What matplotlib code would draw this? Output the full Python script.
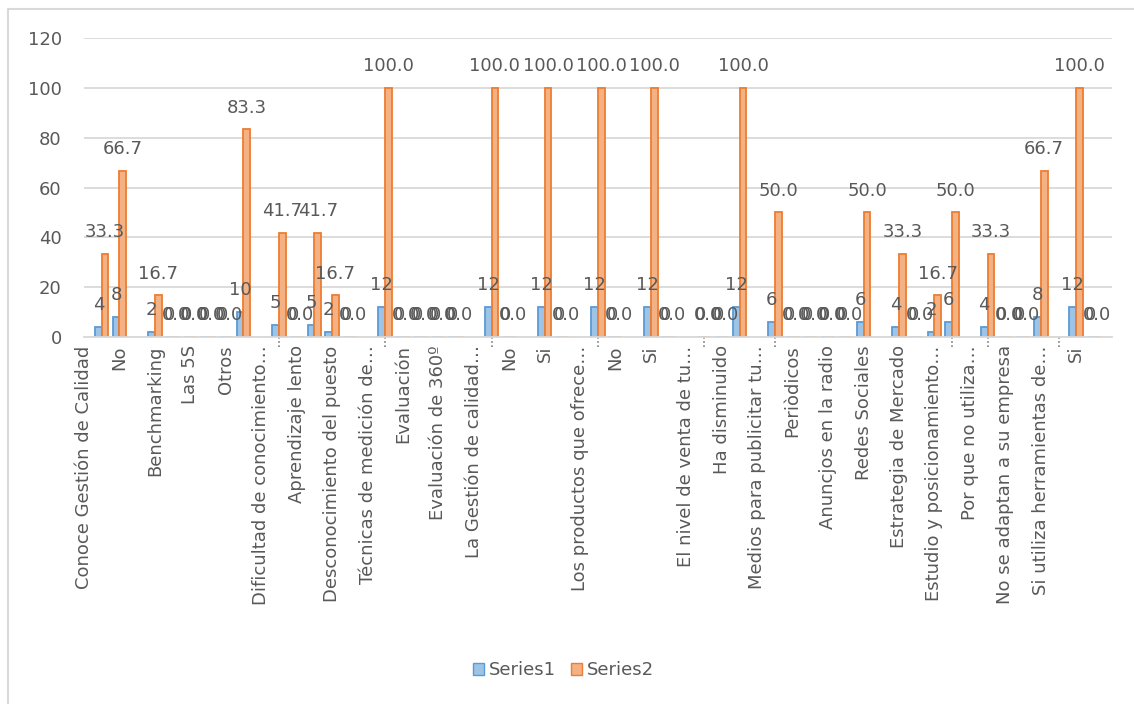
import numpy as np
import matplotlib
matplotlib.use('Agg')
from matplotlib import pyplot as plt
from matplotlib.patches import Patch
from matplotlib.lines import Line2D
import matplotlib.transforms as mtransforms

# labels shown on the axis (every second category)
labels = ['Conoce Gestión de Calidad', 'No', 'Benchmarking', 'Las 5S', 'Otros',
          'Dificultad de conocimiento…', 'Aprendizaje lento', 'Desconocimiento del puesto',
          'Técnicas de medición de…', 'Evaluación', 'Evaluación de 360º',
          'La Gestión de calidad…', 'No', 'Si', 'Los productos que ofrece…', 'No', 'Si',
          'El nivel de venta de tu…', 'Ha disminuido', 'Medios para publicitar tu…',
          'Periòdicos', 'Anuncjos en la radio', 'Redes Sociales', 'Estrategia de Mercado',
          'Estudio y posicionamiento…', 'Por que no utiliza…', 'No se adaptan a su empresa',
          'Si utiliza herramientas de…', 'Si']

nan = np.nan
series1 = [nan, 4, 8, nan, 2, 0, 0, 0, 0, 10,
           nan, 5, 0, 5, 2, 0, nan, 12, 0, 0,
           0, 0, nan, 12, 0, nan, 12, 0, nan, 12,
           0, nan, 12, 0, nan, 0, 0, 12, nan, 6,
           0, 0, 0, 0, 6, nan, 4, 0, 2, 6,
           nan, 4, 0, 0, 8, nan, 12, 0]
series2 = [nan, 33.3, 66.7, nan, 16.7, 0, 0, 0, 0, 83.3,
           nan, 41.7, 0, 41.7, 16.7, 0, nan, 100, 0, 0,
           0, 0, nan, 100, 0, nan, 100, 0, nan, 100,
           0, nan, 100, 0, nan, 0, 0, 100, nan, 50,
           0, 0, 0, 0, 50, nan, 33.3, 0, 16.7, 50,
           nan, 33.3, 0, 0, 66.7, nan, 100, 0]

# group boundaries marked under the axis
separators = [11, 17, 23, 29, 35, 39, 49, 51, 55]

text_color = '#595959'
grid_color = '#D9D9D9'
plt.rcParams['font.family'] = ['DejaVu Sans']

figure = plt.figure(figsize=(11.34, 7.04), dpi=100)
axes = figure.add_axes([0.0741, 0.5213, 0.9062, 0.4247])

x = np.arange(len(series1))
width = 0.38
axes.bar(x - 0.19, series1, width, color='#9DC3E6', edgecolor='#5B9BD5',
         linewidth=1.3, label='Series1', zorder=2)
axes.bar(x + 0.19, series2, width, color='#F4B183', edgecolor='#ED7D31',
         linewidth=1.3, label='Series2', zorder=2)

for xs, values, fmt in [(x - 0.19, series1, '{:.0f}'), (x + 0.19, series2, '{:.1f}')]:
    for xi, v in zip(xs, values):
        if np.isnan(v):
            continue
        axes.annotate(fmt.format(v), (xi, v), xytext=(0, 12), textcoords='offset points',
                      ha='center', va='baseline', fontsize=13, color=text_color, zorder=3)

axes.set_xlim(0, len(series1))
axes.set_ylim(0, 120)
axes.set_yticks(np.arange(0, 121, 20))
axes.set_xticks(x[::2], labels, rotation=90)
axes.tick_params(axis='x', length=0, pad=6, labelsize=13, labelcolor=text_color)
axes.tick_params(axis='y', length=0, pad=16, labelsize=13, labelcolor=text_color)
axes.grid(axis='y', color=grid_color, linewidth=1.3, zorder=0)
axes.set_axisbelow(True)
for side in ['top', 'right', 'left']:
    axes.spines[side].set_visible(False)
axes.spines['bottom'].set_color(grid_color)
axes.spines['bottom'].set_linewidth(1.3)

trans = mtransforms.blended_transform_factory(axes.transData, axes.transAxes)
axes.vlines(separators, -0.035, 0, transform=trans, colors='#7F7F7F',
            linestyles=(0, (1, 1.5)), linewidth=1.2, clip_on=False)

handles = [Patch(facecolor='#9DC3E6', edgecolor='#5B9BD5', label='Series1'),
           Patch(facecolor='#F4B183', edgecolor='#ED7D31', label='Series2')]
figure.legend(handles=handles, loc='center', bbox_to_anchor=(0.497, 0.048), ncol=2,
              frameon=False, fontsize=13, labelcolor=text_color, handlelength=0.6,
              handleheight=0.6, handletextpad=0.3, columnspacing=0.8)

# chart area border (left and top edges)
left, top = 7.5 / 1134, 1 - 8.5 / 704
figure.lines.append(Line2D([left, left, 1], [0, top, top], transform=figure.transFigure,
                           color=grid_color, linewidth=1.5))

figure.savefig('out.png', dpi=100)
